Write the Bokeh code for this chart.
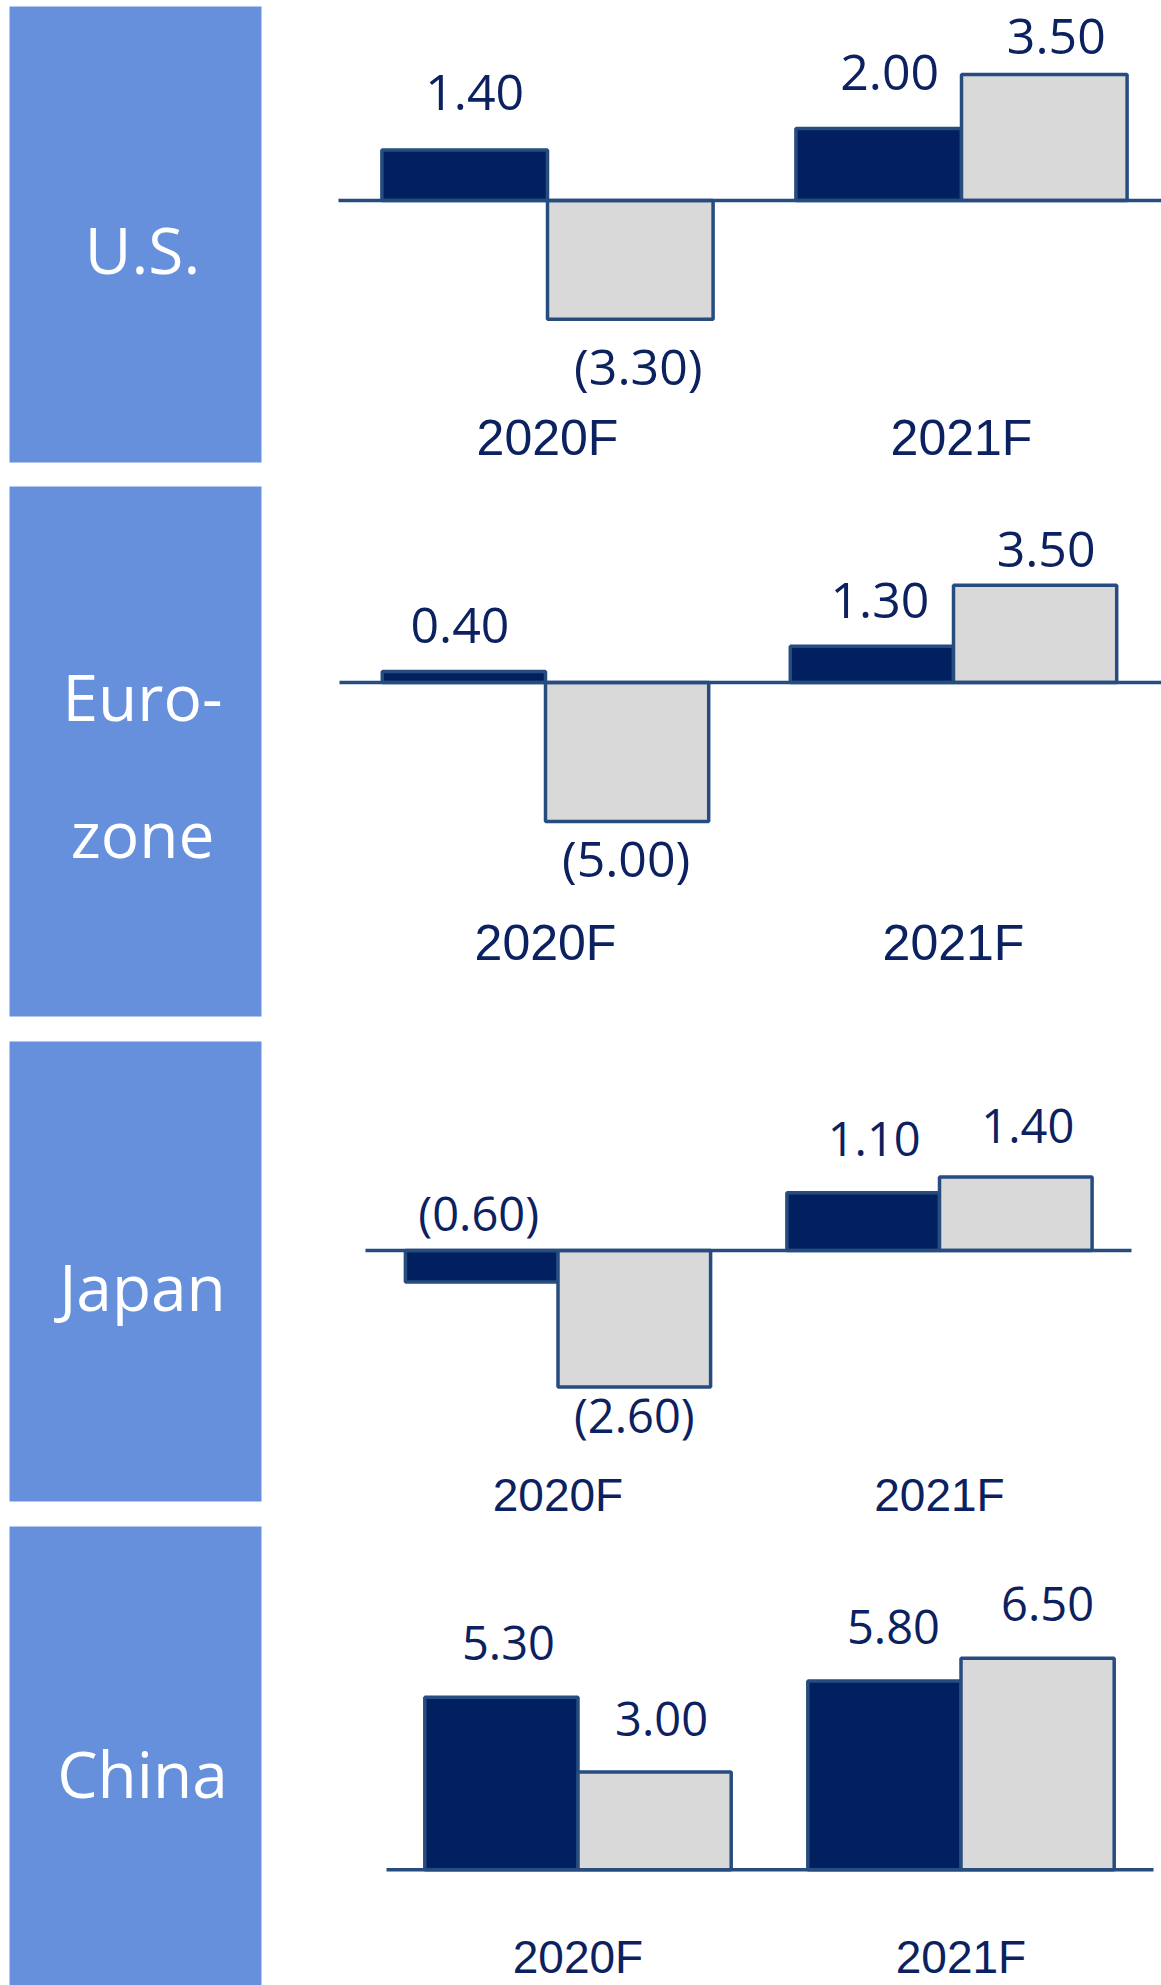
from bokeh.plotting import figure
from bokeh.layouts import row, column
from bokeh.models import Range1d, FixedTicker, ColumnDataSource
from bokeh.core.properties import value
from bokeh.embed import file_html
from bokeh.resources import INLINE

# ---------------- data ----------------
countries = ["U.S.", "Euro-zone", "Japan", "China"]
country_lines = [["U.S."], ["Euro-", "zone"], ["Japan"], ["China"]]
years = ["2020F", "2021F"]
series_dark = [[1.40, 2.00], [0.40, 1.30], [-0.60, 1.10], [5.30, 5.80]]
series_grey = [[-3.30, 3.50], [-5.00, 3.50], [-2.60, 1.40], [3.00, 6.50]]

# ---------------- style ----------------
BOX = "#6690DB"
NAVY = "#02205F"
GREY = "#D9D9D9"
EDGE = "#264C80"
TEXT = "#0B2160"
W = 1161
LEFT_W = 262
RIGHT_W = W - LEFT_W
BAR_W = 0.4
BASELINE_FIX_EM = 0.37   # renderer draws the alphabetic baseline this much lower

# left boxes: (fig top, fig height, min_border_top, min_border_bottom, label baselines)
left_layout = [
    (0, 474, 6, 12, [273]),
    (474, 554, 12, 12, [720, 857]),
    (1028, 485, 13, 12, [1310]),
    (1513, 472, 13, 0, [1797]),
]
LEFT_MBL, LEFT_MBR = 9, 1
LABEL_CX = 142
COUNTRY_PX = 64

# chart panels: top, height, zero px, px/unit, zero-line extent, group centres, label top, fonts
chart_layout = [
    dict(top=0, H=476, zero=200, k=36.0, L=338, R=1161, c0=547, c1=961, ltop=409, vf=50, cf=50),
    dict(top=476, H=524, zero=682, k=27.8, L=339, R=1161, c0=545, c1=953, ltop=914, vf=50, cf=50),
    dict(top=1000, H=535, zero=1250, k=52.5, L=365, R=1131, c0=557.5, c1=939, ltop=1468, vf=47, cf=46),
    dict(top=1535, H=450, zero=1870, k=32.6, L=386, R=1153, c0=577.5, c1=960.5, ltop=1931, vf=47, cf=46),
]
# label nudges in px (dx right, dy down) for dark / grey labels
nudges_dark = [([10, 11], [-39, -38]), ([-4, 8], [-27, -27]), ([-3, 11], [-51.5, -36]), ([7, 9], [-37, -37])]
nudges_grey = [([8, 12], [65, -20]), ([-1, 11], [55, -17]), ([0, 12], [45.5, -33.5]), ([7, 10], [-36, -37])]


def fmt(v):
    return f"({abs(v):.2f})" if v < 0 else f"{v:.2f}"


left_figs = []
for i, (top, H, mbt, mbb, baselines) in enumerate(left_layout):
    fw = LEFT_W - LEFT_MBL - LEFT_MBR
    fh = H - mbt - mbb
    f = figure(width=LEFT_W, height=H, x_range=Range1d(0, fw), y_range=Range1d(fh, 0),
               toolbar_location=None, output_backend="svg",
               x_axis_type=None, y_axis_type=None,
               min_border_left=LEFT_MBL, min_border_right=LEFT_MBR,
               min_border_top=mbt, min_border_bottom=mbb)
    f.background_fill_color = BOX
    f.border_fill_color = "white"
    f.outline_line_color = None
    f.grid.visible = False
    ys = [b - (top + mbt) - BASELINE_FIX_EM * COUNTRY_PX for b in baselines]
    f.text(x=[LABEL_CX - LEFT_MBL] * len(ys), y=ys, text=country_lines[i],
           text_font=value("Open Sans"), text_font_size=f"{COUNTRY_PX}px",
           text_color="white", text_align="center", text_baseline="alphabetic")
    left_figs.append(f)

chart_figs = []
for i, c in enumerate(chart_layout):
    s = c["c1"] - c["c0"]
    mbb = c["top"] + c["H"] - c["ltop"]
    hf = c["H"] - mbb
    z = c["zero"] - c["top"]
    k = c["k"]
    x0 = (LEFT_W - c["c0"]) / s
    x1 = 1 + (W - c["c1"]) / s
    p = figure(width=RIGHT_W, height=c["H"],
               x_range=Range1d(x0, x1), y_range=Range1d(-(hf - z) / k, z / k),
               toolbar_location=None, output_backend="svg", y_axis_type=None,
               min_border_left=0, min_border_right=0,
               min_border_top=0, min_border_bottom=mbb)
    p.outline_line_color = None
    p.grid.visible = False
    p.background_fill_color = "white"
    p.border_fill_color = "white"

    gx = list(range(len(years)))
    dark = series_dark[i]
    grey = series_grey[i]
    xd = [g - BAR_W / 2 for g in gx]
    xg = [g + BAR_W / 2 for g in gx]
    p.vbar(x=xd, top=dark, bottom=0, width=BAR_W, fill_color=NAVY,
           line_color=EDGE, line_width=3.5)
    p.vbar(x=xg, top=grey, bottom=0, width=BAR_W, fill_color=GREY,
           line_color=EDGE, line_width=3.5)
    # zero (category) axis line
    p.segment(x0=[(c["L"] - c["c0"]) / s], x1=[1 + (c["R"] - c["c1"]) / s],
              y0=[0], y1=[0], line_color=EDGE, line_width=3.5)

    fix = BASELINE_FIX_EM * c["vf"]
    for xs, vals, (dxs, dys) in ((xd, dark, nudges_dark[i]), (xg, grey, nudges_grey[i])):
        src = ColumnDataSource(dict(
            x=[x + dx / s for x, dx in zip(xs, dxs)],
            y=[v - (dy - fix) / k for v, dy in zip(vals, dys)],
            t=[fmt(v) for v in vals]))
        p.text(x="x", y="y", text="t", source=src,
               text_font=value("Open Sans"), text_font_size=f"{c['vf']}px",
               text_color=TEXT, text_align="center", text_baseline="alphabetic")

    ax = p.xaxis[0]
    ax.ticker = FixedTicker(ticks=gx)
    ax.major_label_overrides = {g: y for g, y in zip(gx, years)}
    ax.axis_line_color = None
    ax.major_tick_line_color = None
    ax.minor_tick_line_color = None
    ax.major_tick_out = 0
    ax.major_tick_in = 0
    ax.major_label_standoff = 0
    ax.major_label_text_font = "Liberation Sans"
    ax.major_label_text_font_size = f"{c['cf']}px"
    ax.major_label_text_color = TEXT
    chart_figs.append(p)

layout = row(column(*left_figs, spacing=0), column(*chart_figs, spacing=0), spacing=0)

with open("out.html", "w") as fh_:
    fh_.write(file_html(layout, INLINE))
